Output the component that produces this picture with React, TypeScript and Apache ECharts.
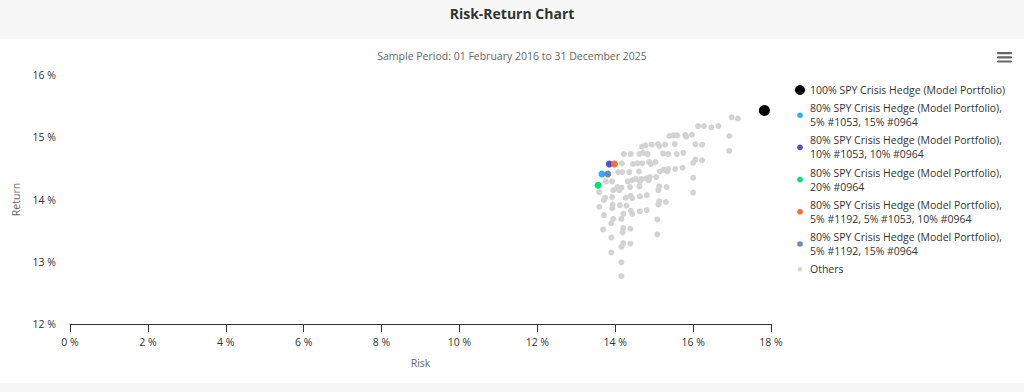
import React, { useEffect, useRef } from 'react';
import * as echarts from 'echarts';

const TITLE = 'Risk-Return Chart';
const SUBTITLE = 'Sample Period: 01 February 2016 to 31 December 2025';
const X_NAME = 'Risk';
const Y_NAME = 'Return';

const X_MIN = 0;
const X_MAX = 18;
const X_STEP = 2;
const Y_MIN = 12;
const Y_MAX = 16;
const Y_STEP = 1;

const portfolioNames = [
  '100% SPY Crisis Hedge (Model Portfolio)',
  '80% SPY Crisis Hedge (Model Portfolio),\n5% #1053, 15% #0964',
  '80% SPY Crisis Hedge (Model Portfolio),\n10% #1053, 10% #0964',
  '80% SPY Crisis Hedge (Model Portfolio),\n20% #0964',
  '80% SPY Crisis Hedge (Model Portfolio),\n5% #1192, 5% #1053, 10% #0964',
  '80% SPY Crisis Hedge (Model Portfolio),\n5% #1192, 15% #0964',
];
const portfolioRisk = [17.83, 13.66, 13.85, 13.56, 13.98, 13.81];
const portfolioReturn = [15.43, 14.41, 14.57, 14.23, 14.57, 14.41];
const portfolioColors = ['#000000', '#2caffe', '#544fc5', '#00e272', '#fe6a35', '#6b8abc'];

const OTHERS_NAME = 'Others';
const othersRisk = [
  16.99, 17.15, 16.13, 16.28, 16.47, 16.65, 16.93, 16.93, 15.39, 15.49,
  15.59, 15.80, 15.82, 15.97, 14.69, 14.78, 14.94, 15.10, 15.13, 15.28,
  15.53, 16.06, 16.23, 14.22, 14.40, 14.62, 14.72, 14.83, 15.23, 15.36,
  15.58, 15.75, 16.06, 16.23, 14.17, 14.46, 14.57, 14.69, 14.87, 15.03,
  14.91, 16.00, 14.08, 14.18, 14.36, 14.61, 15.15, 15.25, 15.36, 15.34,
  15.54, 15.73, 13.76, 13.92, 14.32, 14.44, 14.53, 14.67, 14.63, 14.80,
  14.89, 14.86, 15.05, 16.00, 13.59, 13.95, 14.06, 14.16, 14.10, 14.38,
  14.62, 15.13, 15.11, 15.32, 13.74, 13.71, 13.92, 14.27, 14.40, 14.44,
  14.63, 14.81, 15.13, 15.11, 15.30, 16.00, 13.59, 13.93, 13.92, 14.12,
  14.29, 13.71, 13.95, 14.21, 14.16, 14.40, 14.44, 14.63, 14.81, 15.08,
  13.90, 13.69, 14.21, 14.19, 14.39, 13.90, 15.08, 14.21, 14.16, 14.39,
  13.90, 14.16, 14.16,
];
const othersReturn = [
  15.32, 15.30, 15.18, 15.18, 15.16, 15.18, 15.02, 14.78, 15.02, 15.03,
  15.03, 15.04, 15.01, 15.04, 14.85, 14.87, 14.88, 14.89, 14.86, 14.88,
  14.89, 14.89, 14.88, 14.73, 14.73, 14.73, 14.75, 14.73, 14.74, 14.73,
  14.73, 14.75, 14.64, 14.63, 14.58, 14.57, 14.58, 14.58, 14.60, 14.60,
  14.57, 14.59, 14.44, 14.44, 14.44, 14.45, 14.45, 14.48, 14.49, 14.45,
  14.49, 14.51, 14.29, 14.29, 14.29, 14.31, 14.33, 14.33, 14.29, 14.34,
  14.36, 14.31, 14.36, 14.35, 14.12, 14.15, 14.20, 14.19, 14.15, 14.20,
  14.21, 14.21, 14.15, 14.20, 14.03, 13.99, 14.04, 14.03, 14.06, 14.02,
  14.05, 14.07, 13.97, 13.92, 13.96, 14.11, 13.88, 13.92, 13.86, 13.91,
  13.90, 13.75, 13.69, 13.77, 13.69, 13.82, 13.77, 13.81, 13.83, 13.68,
  13.62, 13.52, 13.54, 13.47, 13.53, 13.39, 13.44, 13.30, 13.24, 13.29,
  13.15, 12.99, 12.77,
];
const OTHERS_COLOR = '#d3d3d3';

const FONT = "'Open Sans', 'Liberation Sans', sans-serif";

// legend icons: circles drawn inside a fixed 10x10 box
const smallIcon = 'path://M0,0h0M10,10h0M2.2,5a2.8,2.8 0 1 0 5.6,0a2.8,2.8 0 1 0 -5.6,0Z';
const tinyIcon = 'path://M0,0h0M10,10h0M2.8,5a2.2,2.2 0 1 0 4.4,0a2.2,2.2 0 1 0 -4.4,0Z';

export default function App() {
  const ref = useRef<HTMLDivElement>(null);

  useEffect(() => {
    if (!ref.current) return;
    const chart = echarts.init(ref.current, undefined, { renderer: 'svg' });

    const portfolioSeries = portfolioNames.map((name, i) => ({
      type: 'scatter',
      name,
      data: [[portfolioRisk[i], portfolioReturn[i]]],
      symbol: 'circle',
      symbolSize: i === 0 ? 11 : 7,
      itemStyle: { color: portfolioColors[i], opacity: 1 },
      z: 3,
    }));

    const othersData = othersRisk.map((r, i) => [r, othersReturn[i]]);

    const legendData = [
      ...portfolioNames.map((name, i) => ({ name, icon: i === 0 ? 'circle' : smallIcon })),
      { name: OTHERS_NAME, icon: tinyIcon },
    ];

    chart.setOption({
      animation: false,
      backgroundColor: '#f7f7f7',
      textStyle: { fontFamily: FONT },
      title: [
        {
          text: TITLE,
          left: 'center',
          top: 5,
          padding: 0,
          textStyle: { fontSize: 14, fontWeight: 'bold', color: '#333333', fontFamily: FONT, lineHeight: 16 },
        },
        {
          text: SUBTITLE,
          left: 'center',
          top: 49,
          padding: 0,
          textStyle: { fontSize: 10.5, fontWeight: 'normal', color: '#666666', fontFamily: FONT, lineHeight: 14 },
        },
      ],
      graphic: [
        {
          type: 'rect',
          z: -10,
          silent: true,
          shape: { x: 0, y: 39, width: 1024, height: 344 },
          style: { fill: '#ffffff' },
        },
        {
          type: 'group',
          silent: true,
          children: [52, 56.2, 60.4].map((y) => ({
            type: 'rect',
            shape: { x: 997, y, width: 15, height: 2.2, r: 1 },
            style: { fill: '#666666' },
          })),
        },
      ],
      grid: { left: 70, right: 253, top: 75, bottom: 68, containLabel: false },
      xAxis: {
        type: 'value',
        min: X_MIN,
        max: X_MAX,
        interval: X_STEP,
        name: X_NAME,
        nameLocation: 'middle',
        nameGap: 33,
        nameTextStyle: { color: '#666666', fontSize: 10.5, fontFamily: FONT },
        axisLine: { show: true, lineStyle: { color: '#333333', width: 1 } },
        axisTick: { show: true, length: 8, lineStyle: { color: '#333333' } },
        axisLabel: { formatter: '{value} %', color: '#333333', fontSize: 10.5, margin: 12, fontFamily: FONT },
        splitLine: { show: false },
      },
      yAxis: {
        type: 'value',
        min: Y_MIN,
        max: Y_MAX,
        interval: Y_STEP,
        name: Y_NAME,
        nameLocation: 'middle',
        nameGap: 45,
        nameTextStyle: { color: '#666666', fontSize: 10.5, fontFamily: FONT },
        axisLine: { show: false },
        axisTick: { show: false },
        axisLabel: { formatter: '{value} %', color: '#333333', fontSize: 10.5, margin: 14, fontFamily: FONT },
        splitLine: { show: false },
      },
      legend: {
        orient: 'vertical',
        left: 795,
        top: 83,
        padding: 0,
        itemWidth: 10,
        itemHeight: 10,
        itemGap: 4.2,
        selectedMode: false,
        textStyle: { color: '#333333', fontSize: 10.5, lineHeight: 14, fontFamily: FONT },
        data: legendData,
      },
      series: [
        {
          type: 'scatter',
          name: OTHERS_NAME,
          data: othersData,
          symbol: 'circle',
          symbolSize: 6,
          itemStyle: { color: OTHERS_COLOR, opacity: 1 },
          z: 2,
        },
        ...portfolioSeries,
      ],
    });

    return () => chart.dispose();
  }, []);

  return (
    <div
      ref={ref}
      style={{ position: 'fixed', left: 0, top: 0, width: 1024, height: 392 }}
    />
  );
}
